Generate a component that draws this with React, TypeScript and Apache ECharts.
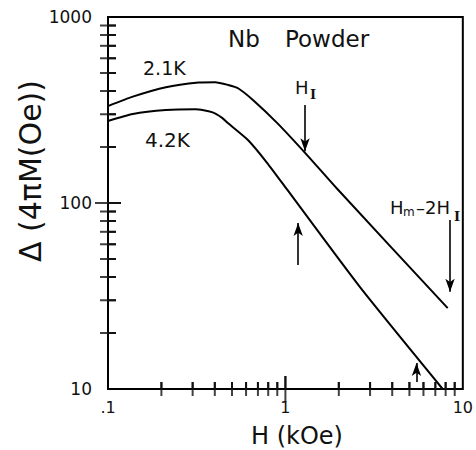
import React, { useEffect, useRef } from "react";
import * as echarts from "echarts";

// ---- data ----
const X_MIN = 0.1;
const X_MAX = 10;
const Y_MIN = 10;
const Y_MAX = 1000;

const h21K = [0.1, 0.138, 0.212, 0.324, 0.402, 0.476, 0.541, 0.656, 0.903, 1.325, 1.945, 8.22];
const d21K = [332, 373, 419, 444, 446, 431, 414, 358, 268, 181, 120, 27.2];

const h42K = [0.1, 0.138, 0.212, 0.311, 0.385, 0.44, 0.476, 0.615, 0.794, 1.026, 2.62, 7.7];
const d42K = [276, 301, 316, 319, 308, 287, 268, 218, 163, 117.5, 35.5, 10];

const xMinorTicks = [0.2, 0.3, 0.4, 0.5, 0.6, 0.7, 0.8, 0.9, 2, 3, 4, 5, 6, 7, 8, 9];
const xMajorTicks = [1];
const yMinorTicks = [20, 30, 40, 50, 60, 70, 80, 90, 200, 300, 400, 500, 600, 700, 800, 900];
const yMajorTicks = [100];
const xTickLabels: Record<string, string> = { "0.1": ".1", "1": "1", "10": "10" };

// arrows: [H, from, to]
const arrowHI = [1.29, 336, 190];
const arrowMid = [1.18, 46.4, 78];
const arrowSmall = [5.48, 10.9, 13.8];
const arrowHm = [8.47, 81, 33.3];

const FONT = "DejaVu Sans";
const MAJOR_LEN = 13;
const MINOR_LEN_Y = 8;
const MINOR_LEN_X = 7;

export default function App() {
  const ref = useRef<HTMLDivElement>(null);
  useEffect(() => {
    document.body.style.margin = "0";
    if (!ref.current) return;
    const chart = echarts.init(ref.current, undefined, { renderer: "svg" });

    const arrowLine = (a: number[]) => [{ coord: [a[0], a[1]] }, { coord: [a[0], a[2]] }];

    const text = (x: number, y: number, t: string, size: number, family = FONT, weight = "normal", va = "middle") => ({
      type: "text",
      x,
      y,
      silent: true,
      style: {
        text: t,
        font: `${weight} ${size}px "${family}"`,
        fill: "#111",
        align: "left",
        verticalAlign: va,
      },
    });

    // centered rect symbols: half of each lies inside the plot frame
    const tickSeries = (data: number[][], horizontal: boolean, len: number) => ({
      type: "scatter",
      symbol: "rect",
      symbolSize: horizontal ? [len * 2, 2] : [2, len * 2],
      itemStyle: { color: "#111" },
      data,
    });

    chart.setOption({
      animation: false,
      grid: {
        left: 108,
        right: 9,
        top: 17,
        bottom: 61,
        show: true,
        borderColor: "#000",
        borderWidth: 2,
      },
      xAxis: {
        type: "log",
        min: X_MIN,
        max: X_MAX,
        axisLine: { show: false },
        axisTick: { show: false },
        splitLine: { show: false },
        axisLabel: {
          margin: 10,
          color: "#111",
          fontSize: 16,
          fontFamily: FONT,
          formatter: (v: number) => xTickLabels[String(Number(v.toPrecision(3)))] ?? "",
        },
      },
      yAxis: {
        type: "log",
        min: Y_MIN,
        max: Y_MAX,
        axisLine: { show: false },
        axisTick: { show: false },
        splitLine: { show: false },
        axisLabel: {
          margin: 16,
          color: "#111",
          fontSize: 17,
          fontFamily: FONT,
          formatter: (v: number) => String(Math.round(v)),
        },
      },
      series: [
        {
          type: "line",
          name: "2.1K",
          data: h21K.map((h, i) => [h, d21K[i]]),
          showSymbol: false,
          smooth: 0.2,
          lineStyle: { color: "#000", width: 2 },
          silent: true,
          markLine: {
            silent: true,
            symbol: ["none", "arrow"],
            symbolSize: [7, 13],
            label: { show: false },
            lineStyle: { color: "#000", width: 1.6, type: "solid" },
            data: [arrowLine(arrowHI), arrowLine(arrowMid), arrowLine(arrowSmall), arrowLine(arrowHm)],
          },
        },
        {
          type: "line",
          name: "4.2K",
          data: h42K.map((h, i) => [h, d42K[i]]),
          showSymbol: false,
          smooth: 0.2,
          lineStyle: { color: "#000", width: 2 },
          silent: true,
        },
        tickSeries(yMinorTicks.map((v) => [X_MIN, v]), true, MINOR_LEN_Y),
        tickSeries(yMajorTicks.map((v) => [X_MIN, v]), true, MAJOR_LEN),
        tickSeries(xMinorTicks.map((v) => [v, Y_MIN]), false, MINOR_LEN_X),
        tickSeries(xMajorTicks.map((v) => [v, Y_MIN]), false, MAJOR_LEN),
      ],
    });

    // extra tick marks positioned through the chart's own log scales
    const tickLines: any[] = [];
    const addYTick = (v: number, len: number) => {
      const p = chart.convertToPixel({ seriesIndex: 0 }, [X_MIN, v]) as number[];
      if (!p || isNaN(p[0]) || isNaN(p[1])) return;
      tickLines.push({
        type: "line",
        silent: true,
        z: 50,
        shape: { x1: p[0], y1: p[1], x2: p[0] + len, y2: p[1] },
        style: { stroke: "#111", lineWidth: 2 },
      });
    };
    const addXTick = (v: number, len: number) => {
      const p = chart.convertToPixel({ seriesIndex: 0 }, [v, Y_MIN]) as number[];
      if (!p || isNaN(p[0]) || isNaN(p[1])) return;
      tickLines.push({
        type: "line",
        silent: true,
        z: 50,
        shape: { x1: p[0], y1: p[1], x2: p[0], y2: p[1] - len },
        style: { stroke: "#111", lineWidth: 2 },
      });
    };
    yMinorTicks.forEach((v) => addYTick(v, MINOR_LEN_Y));
    yMajorTicks.forEach((v) => addYTick(v, MAJOR_LEN));
    xMinorTicks.forEach((v) => addXTick(v, MINOR_LEN_X));
    xMajorTicks.forEach((v) => addXTick(v, MAJOR_LEN));

    chart.setOption({
      graphic: [
        ...tickLines,
        text(228, 39, "Nb", 23),
        text(285, 39, "Powder", 23),
        text(143, 68, "2.1K", 19),
        text(145, 140, "4.2K", 20),
        text(295, 87, "H", 18),
        text(310, 101, "I", 13, "DejaVu Serif", "bold", "bottom"),
        text(390, 207, "H", 18),
        text(403, 218, "m", 12, FONT, "normal", "bottom"),
        text(416, 207, "–2H", 18),
        text(454, 223, "I", 13, "DejaVu Serif", "bold", "bottom"),
        text(251, 436, "H (kOe)", 24),
        {
          type: "text",
          x: 30,
          y: 171,
          rotation: Math.PI / 2,
          silent: true,
          style: {
            text: "Δ (4πM(Oe))",
            font: `normal 30px "${FONT}"`,
            fill: "#111",
            align: "center",
            verticalAlign: "middle",
          },
        },
      ],
    });
    return () => chart.dispose();
  }, []);
  return <div ref={ref} style={{ width: 476, height: 450 }} />;
}
